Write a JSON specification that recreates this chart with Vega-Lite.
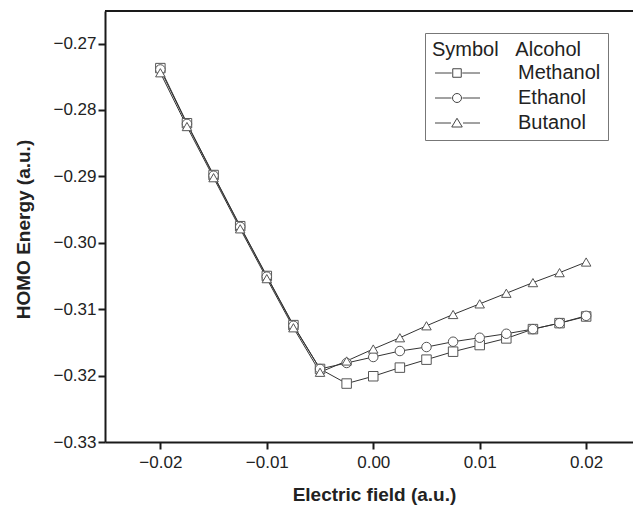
{
  "$schema": "https://vega.github.io/schema/vega-lite/v6.json",
  "width": 528,
  "height": 431,
  "autosize": {"type": "none"},
  "padding": {"left": 105, "top": 11, "right": 0, "bottom": 72},
  "background": "white",
  "config": {
    "view": {"stroke": null},
    "axis": {
      "grid": false,
      "domainColor": "#1a1a1a",
      "domainWidth": 2,
      "tickColor": "#1a1a1a",
      "tickWidth": 2,
      "tickSize": 7,
      "labelFont": "Liberation Sans",
      "labelFontSize": 17,
      "labelColor": "#222",
      "titleFont": "Liberation Sans",
      "titleFontSize": 19,
      "titleFontWeight": "bold",
      "titleColor": "#222"
    }
  },
  "data": {
    "values": [
      {"x": -0.02, "y": -0.2737, "Alcohol": "Methanol"},
      {"x": -0.0175, "y": -0.2820, "Alcohol": "Methanol"},
      {"x": -0.015, "y": -0.2898, "Alcohol": "Methanol"},
      {"x": -0.0125, "y": -0.2975, "Alcohol": "Methanol"},
      {"x": -0.01, "y": -0.3050, "Alcohol": "Methanol"},
      {"x": -0.0075, "y": -0.3124, "Alcohol": "Methanol"},
      {"x": -0.005, "y": -0.3190, "Alcohol": "Methanol"},
      {"x": -0.0025, "y": -0.3212, "Alcohol": "Methanol"},
      {"x": 0, "y": -0.3201, "Alcohol": "Methanol"},
      {"x": 0.0025, "y": -0.3188, "Alcohol": "Methanol"},
      {"x": 0.005, "y": -0.3176, "Alcohol": "Methanol"},
      {"x": 0.0075, "y": -0.3164, "Alcohol": "Methanol"},
      {"x": 0.01, "y": -0.3154, "Alcohol": "Methanol"},
      {"x": 0.0125, "y": -0.3144, "Alcohol": "Methanol"},
      {"x": 0.015, "y": -0.3130, "Alcohol": "Methanol"},
      {"x": 0.0175, "y": -0.3121, "Alcohol": "Methanol"},
      {"x": 0.02, "y": -0.3111, "Alcohol": "Methanol"},
      {"x": -0.02, "y": -0.2739, "Alcohol": "Ethanol"},
      {"x": -0.0175, "y": -0.2821, "Alcohol": "Ethanol"},
      {"x": -0.015, "y": -0.2899, "Alcohol": "Ethanol"},
      {"x": -0.0125, "y": -0.2976, "Alcohol": "Ethanol"},
      {"x": -0.01, "y": -0.3051, "Alcohol": "Ethanol"},
      {"x": -0.0075, "y": -0.3125, "Alcohol": "Ethanol"},
      {"x": -0.005, "y": -0.3190, "Alcohol": "Ethanol"},
      {"x": -0.0025, "y": -0.3181, "Alcohol": "Ethanol"},
      {"x": 0, "y": -0.3172, "Alcohol": "Ethanol"},
      {"x": 0.0025, "y": -0.3163, "Alcohol": "Ethanol"},
      {"x": 0.005, "y": -0.3157, "Alcohol": "Ethanol"},
      {"x": 0.0075, "y": -0.3149, "Alcohol": "Ethanol"},
      {"x": 0.01, "y": -0.3143, "Alcohol": "Ethanol"},
      {"x": 0.0125, "y": -0.3137, "Alcohol": "Ethanol"},
      {"x": 0.015, "y": -0.3130, "Alcohol": "Ethanol"},
      {"x": 0.0175, "y": -0.3121, "Alcohol": "Ethanol"},
      {"x": 0.02, "y": -0.3110, "Alcohol": "Ethanol"},
      {"x": -0.02, "y": -0.2744, "Alcohol": "Butanol"},
      {"x": -0.0175, "y": -0.2825, "Alcohol": "Butanol"},
      {"x": -0.015, "y": -0.2902, "Alcohol": "Butanol"},
      {"x": -0.0125, "y": -0.2979, "Alcohol": "Butanol"},
      {"x": -0.01, "y": -0.3054, "Alcohol": "Butanol"},
      {"x": -0.0075, "y": -0.3128, "Alcohol": "Butanol"},
      {"x": -0.005, "y": -0.3195, "Alcohol": "Butanol"},
      {"x": -0.0025, "y": -0.3178, "Alcohol": "Butanol"},
      {"x": 0, "y": -0.3160, "Alcohol": "Butanol"},
      {"x": 0.0025, "y": -0.3143, "Alcohol": "Butanol"},
      {"x": 0.005, "y": -0.3125, "Alcohol": "Butanol"},
      {"x": 0.0075, "y": -0.3108, "Alcohol": "Butanol"},
      {"x": 0.01, "y": -0.3092, "Alcohol": "Butanol"},
      {"x": 0.0125, "y": -0.3076, "Alcohol": "Butanol"},
      {"x": 0.015, "y": -0.3060, "Alcohol": "Butanol"},
      {"x": 0.0175, "y": -0.3045, "Alcohol": "Butanol"},
      {"x": 0.02, "y": -0.3029, "Alcohol": "Butanol"}
    ]
  },
  "encoding": {
    "x": {
      "field": "x", "type": "quantitative",
      "scale": {"domain": [-0.0252, 0.0244], "nice": false, "zero": false},
      "axis": {
        "title": "Electric field (a.u.)",
        "values": [-0.02, -0.01, 0, 0.01, 0.02],
        "format": ".2f",
        "labelPadding": 5,
        "titleX": 269, "titleY": 52, "titleAlign": "center", "titleBaseline": "middle"
      }
    },
    "y": {
      "field": "y", "type": "quantitative",
      "scale": {"domain": [-0.33, -0.2651], "nice": false, "zero": false},
      "axis": {
        "title": "HOMO Energy (a.u.)",
        "values": [-0.33, -0.32, -0.31, -0.30, -0.29, -0.28, -0.27],
        "format": ".2f",
        "labelPadding": 2,
        "titleX": -82, "titleY": 218, "titleAngle": -90, "titleAlign": "center", "titleBaseline": "middle"
      }
    }
  },
  "layer": [
    {
      "mark": {"type": "rule", "color": "#1a1a1a", "strokeWidth": 2},
      "encoding": {"x": {"value": 0}, "x2": {"value": 528}, "y": {"datum": -0.2651}}
    },
    {
      "mark": {"type": "line", "color": "#333", "strokeWidth": 1},
      "encoding": {"detail": {"field": "Alcohol"}}
    },
    {
      "mark": {"type": "point", "filled": true, "fill": "white", "stroke": "#555", "strokeWidth": 1, "size": 90, "opacity": 1},
      "encoding": {
        "shape": {
          "field": "Alcohol", "type": "nominal",
          "scale": {"domain": ["Methanol", "Ethanol", "Butanol"], "range": ["square", "circle", "triangle-up"]},
          "legend": null
        }
      }
    },
    {
      "mark": {"type": "point", "filled": false, "opacity": 0, "size": 100},
      "encoding": {
        "shape": {
          "field": "Alcohol", "type": "nominal",
          "scale": {
            "domain": ["Methanol", "Ethanol", "Butanol"],
            "range": [
              "M-1.4,0H1.95M4.05,0H7.6M2.15,-0.85H3.85V0.85H2.15Z",
              "M-1.4,0H1.9M4.1,0H7.6M2.1,0A0.9,0.9 0 1,0 3.9,0A0.9,0.9 0 1,0 2.1,0Z",
              "M-1.4,0H1.8M4.2,0H7.6M1.95,0.8H4.05L3,-0.95Z"
            ]
          },
          "legend": {
            "title": "Symbol\u00a0\u00a0\u00a0Alcohol",
            "orient": "none",
            "legendX": 320,
            "legendY": 22,
            "titleFont": "Liberation Sans",
            "titleFontSize": 20,
            "titleFontWeight": "normal",
            "titleColor": "#222",
            "titlePadding": 3,
            "labelFont": "Liberation Sans",
            "labelFontSize": 20,
            "labelColor": "#222",
            "labelOffset": 66,
            "symbolSize": 100,
            "symbolStrokeColor": "#444",
            "symbolStrokeWidth": 1,
            "symbolFillColor": "white",
            "symbolOpacity": 1,
            "strokeColor": "#777",
            "padding": 7,
            "rowPadding": 5
          }
        }
      }
    }
  ],
  "resolve": {"scale": {"shape": "independent"}, "legend": {"shape": "independent"}}
}
